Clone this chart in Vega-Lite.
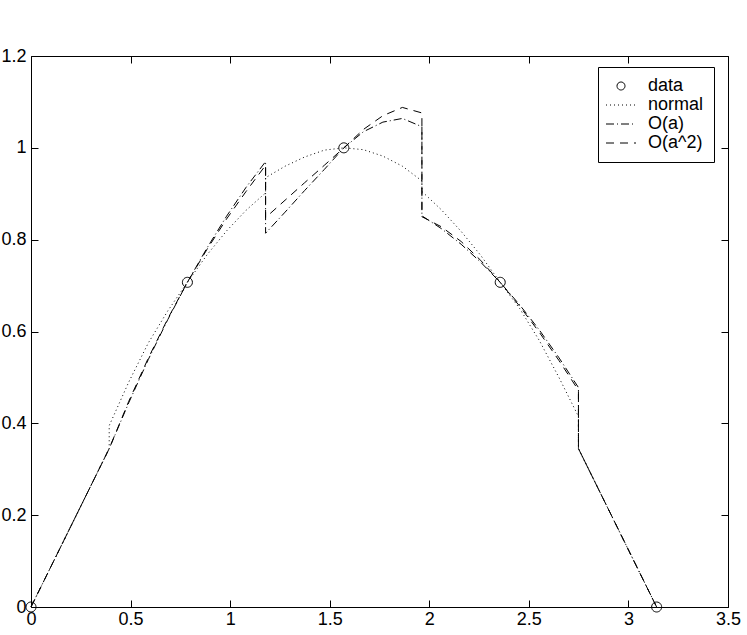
{
  "$schema": "https://vega.github.io/schema/vega-lite/v6.json",
  "width": 697,
  "height": 551,
  "autosize": {"type": "none"},
  "padding": {"left": 31, "top": 56, "right": 19, "bottom": 28},
  "background": "white",
  "config": {
    "font": "Liberation Sans",
    "view": {"stroke": "black", "strokeWidth": 1},
    "axis": {"grid": false, "domain": false, "tickColor": "black", "tickSize": -7, "tickWidth": 1, "labelColor": "black", "labelFont": "Liberation Sans", "labelFontSize": 18, "labelFlush": false, "title": null},
    "legend": {
      "title": null, "orient": "none", "legendX": 567, "legendY": 11,
      "strokeColor": "black", "fillColor": "white", "padding": 10, "symbolOffset": 4, "rowPadding": 1,
      "labelFont": "Liberation Sans", "labelFontSize": 18, "labelColor": "black", "labelOffset": 18,
      "symbolSize": 256, "symbolStrokeWidth": 1, "symbolStrokeColor": "black", "symbolFillColor": "transparent", "cornerRadius": 0
    }
  },
  "datasets": {
    "curves": [
      {"series": "normal", "k": 1, "x": 0, "y": 0},
      {"series": "normal", "k": 2, "x": 0.3927, "y": 0.345},
      {"series": "normal", "k": 3, "x": 0.3927, "y": 0.395},
      {"series": "normal", "k": 4, "x": 0.491, "y": 0.49},
      {"series": "normal", "k": 5, "x": 0.589, "y": 0.575},
      {"series": "normal", "k": 6, "x": 0.687, "y": 0.645},
      {"series": "normal", "k": 7, "x": 0.785, "y": 0.707},
      {"series": "normal", "k": 8, "x": 0.884, "y": 0.767},
      {"series": "normal", "k": 9, "x": 0.982, "y": 0.819},
      {"series": "normal", "k": 10, "x": 1.08, "y": 0.864},
      {"series": "normal", "k": 11, "x": 1.178, "y": 0.902},
      {"series": "normal", "k": 12, "x": 1.178, "y": 0.935},
      {"series": "normal", "k": 13, "x": 1.276, "y": 0.96},
      {"series": "normal", "k": 14, "x": 1.374, "y": 0.98},
      {"series": "normal", "k": 15, "x": 1.473, "y": 0.995},
      {"series": "normal", "k": 16, "x": 1.571, "y": 1.0},
      {"series": "normal", "k": 17, "x": 1.669, "y": 0.996},
      {"series": "normal", "k": 18, "x": 1.767, "y": 0.982},
      {"series": "normal", "k": 19, "x": 1.865, "y": 0.96},
      {"series": "normal", "k": 20, "x": 1.963, "y": 0.928},
      {"series": "normal", "k": 21, "x": 1.963, "y": 0.905},
      {"series": "normal", "k": 22, "x": 2.061, "y": 0.865},
      {"series": "normal", "k": 23, "x": 2.16, "y": 0.818},
      {"series": "normal", "k": 24, "x": 2.258, "y": 0.766},
      {"series": "normal", "k": 25, "x": 2.356, "y": 0.707},
      {"series": "normal", "k": 26, "x": 2.454, "y": 0.65},
      {"series": "normal", "k": 27, "x": 2.553, "y": 0.58},
      {"series": "normal", "k": 28, "x": 2.651, "y": 0.5},
      {"series": "normal", "k": 29, "x": 2.749, "y": 0.415},
      {"series": "normal", "k": 30, "x": 2.749, "y": 0.345},
      {"series": "normal", "k": 31, "x": 3.1416, "y": 0},
      {"series": "O(a)", "k": 1, "x": 0, "y": 0},
      {"series": "O(a)", "k": 2, "x": 0.3927, "y": 0.345},
      {"series": "O(a)", "k": 3, "x": 0.491, "y": 0.445},
      {"series": "O(a)", "k": 4, "x": 0.589, "y": 0.539},
      {"series": "O(a)", "k": 5, "x": 0.687, "y": 0.626},
      {"series": "O(a)", "k": 6, "x": 0.785, "y": 0.707},
      {"series": "O(a)", "k": 7, "x": 0.884, "y": 0.782},
      {"series": "O(a)", "k": 8, "x": 0.982, "y": 0.851},
      {"series": "O(a)", "k": 9, "x": 1.08, "y": 0.914},
      {"series": "O(a)", "k": 10, "x": 1.178, "y": 0.97},
      {"series": "O(a)", "k": 11, "x": 1.178, "y": 0.814},
      {"series": "O(a)", "k": 12, "x": 1.276, "y": 0.86},
      {"series": "O(a)", "k": 13, "x": 1.374, "y": 0.907},
      {"series": "O(a)", "k": 14, "x": 1.473, "y": 0.953},
      {"series": "O(a)", "k": 15, "x": 1.571, "y": 1.0},
      {"series": "O(a)", "k": 16, "x": 1.669, "y": 1.035},
      {"series": "O(a)", "k": 17, "x": 1.767, "y": 1.056},
      {"series": "O(a)", "k": 18, "x": 1.865, "y": 1.064},
      {"series": "O(a)", "k": 19, "x": 1.963, "y": 1.046},
      {"series": "O(a)", "k": 20, "x": 1.963, "y": 0.852},
      {"series": "O(a)", "k": 21, "x": 2.061, "y": 0.824},
      {"series": "O(a)", "k": 22, "x": 2.16, "y": 0.79},
      {"series": "O(a)", "k": 23, "x": 2.258, "y": 0.751},
      {"series": "O(a)", "k": 24, "x": 2.356, "y": 0.707},
      {"series": "O(a)", "k": 25, "x": 2.454, "y": 0.658},
      {"series": "O(a)", "k": 26, "x": 2.553, "y": 0.603},
      {"series": "O(a)", "k": 27, "x": 2.651, "y": 0.543},
      {"series": "O(a)", "k": 28, "x": 2.749, "y": 0.478},
      {"series": "O(a)", "k": 29, "x": 2.749, "y": 0.345},
      {"series": "O(a)", "k": 30, "x": 3.1416, "y": 0},
      {"series": "O(a^2)", "k": 1, "x": 0, "y": 0},
      {"series": "O(a^2)", "k": 2, "x": 0.3927, "y": 0.345},
      {"series": "O(a^2)", "k": 3, "x": 0.491, "y": 0.448},
      {"series": "O(a^2)", "k": 4, "x": 0.589, "y": 0.542},
      {"series": "O(a^2)", "k": 5, "x": 0.687, "y": 0.628},
      {"series": "O(a^2)", "k": 6, "x": 0.785, "y": 0.707},
      {"series": "O(a^2)", "k": 7, "x": 0.884, "y": 0.779},
      {"series": "O(a^2)", "k": 8, "x": 0.982, "y": 0.845},
      {"series": "O(a^2)", "k": 9, "x": 1.08, "y": 0.905},
      {"series": "O(a^2)", "k": 10, "x": 1.178, "y": 0.962},
      {"series": "O(a^2)", "k": 11, "x": 1.178, "y": 0.848},
      {"series": "O(a^2)", "k": 12, "x": 1.276, "y": 0.886},
      {"series": "O(a^2)", "k": 13, "x": 1.374, "y": 0.924},
      {"series": "O(a^2)", "k": 14, "x": 1.473, "y": 0.962},
      {"series": "O(a^2)", "k": 15, "x": 1.571, "y": 1.0},
      {"series": "O(a^2)", "k": 16, "x": 1.669, "y": 1.04},
      {"series": "O(a^2)", "k": 17, "x": 1.767, "y": 1.07},
      {"series": "O(a^2)", "k": 18, "x": 1.865, "y": 1.088},
      {"series": "O(a^2)", "k": 19, "x": 1.963, "y": 1.076},
      {"series": "O(a^2)", "k": 20, "x": 1.963, "y": 0.85},
      {"series": "O(a^2)", "k": 21, "x": 2.061, "y": 0.828},
      {"series": "O(a^2)", "k": 22, "x": 2.16, "y": 0.796},
      {"series": "O(a^2)", "k": 23, "x": 2.258, "y": 0.755},
      {"series": "O(a^2)", "k": 24, "x": 2.356, "y": 0.707},
      {"series": "O(a^2)", "k": 25, "x": 2.454, "y": 0.655},
      {"series": "O(a^2)", "k": 26, "x": 2.553, "y": 0.598},
      {"series": "O(a^2)", "k": 27, "x": 2.651, "y": 0.537},
      {"series": "O(a^2)", "k": 28, "x": 2.749, "y": 0.472},
      {"series": "O(a^2)", "k": 29, "x": 2.749, "y": 0.345},
      {"series": "O(a^2)", "k": 30, "x": 3.1416, "y": 0}
    ],
    "points": [
      {"series": "data", "x": 0, "y": 0},
      {"series": "data", "x": 0.7854, "y": 0.7071},
      {"series": "data", "x": 1.5708, "y": 1.0},
      {"series": "data", "x": 2.3562, "y": 0.7071},
      {"series": "data", "x": 3.1416, "y": 0}
    ]
  },
  "layer": [
    {
      "data": {"name": "points"},
      "mark": {"type": "point", "filled": false, "color": "black", "strokeWidth": 1, "size": 400, "opacity": 1},
      "encoding": {
        "x": {"field": "x", "type": "quantitative", "scale": {"domain": [0, 3.5], "nice": false, "zero": false},
              "axis": {"orient": "top", "labels": false, "values": [0, 0.5, 1, 1.5, 2, 2.5, 3, 3.5]}},
        "y": {"field": "y", "type": "quantitative", "scale": {"domain": [0, 1.2], "nice": false, "zero": false},
              "axis": {"orient": "right", "labels": false, "values": [0, 0.2, 0.4, 0.6, 0.8, 1, 1.2]}},
        "shape": {"field": "series", "type": "nominal",
                  "scale": {"domain": ["data", "normal", "O(a)", "O(a^2)"],
                            "range": ["M-0.5,0A0.5,0.5 0 1,1 0.5,0A0.5,0.5 0 1,1 -0.5,0Z", "M-1.875,0L1.875,0", "M-1.875,0L1.875,0", "M-1.875,0L1.875,0"]}},
        "strokeDash": {"field": "series", "type": "nominal",
                  "scale": {"domain": ["data", "normal", "O(a)", "O(a^2)"],
                            "range": [[1, 0], [1, 3], [8, 3, 1, 3], [8, 6]]}}
      }
    },
    {
      "data": {"name": "curves"},
      "mark": {"type": "line", "color": "black", "strokeWidth": 1, "interpolate": "linear"},
      "encoding": {
        "x": {"field": "x", "type": "quantitative", "scale": {"domain": [0, 3.5], "nice": false, "zero": false},
              "axis": {"orient": "bottom", "values": [0, 0.5, 1, 1.5, 2, 2.5, 3, 3.5], "format": "~g", "labelPadding": 10}},
        "y": {"field": "y", "type": "quantitative", "scale": {"domain": [0, 1.2], "nice": false, "zero": false},
              "axis": {"orient": "left", "values": [0, 0.2, 0.4, 0.6, 0.8, 1, 1.2], "format": "~g", "labelPadding": 12}},
        "strokeDash": {"field": "series", "type": "nominal",
                  "scale": {"domain": ["data", "normal", "O(a)", "O(a^2)"],
                            "range": [[1, 0], [1, 3], [8, 3, 1, 3], [8, 6]]}},
        "order": {"field": "k", "type": "quantitative"}
      }
    }
  ],
  "resolve": {"axis": {"x": "independent", "y": "independent"}}
}
